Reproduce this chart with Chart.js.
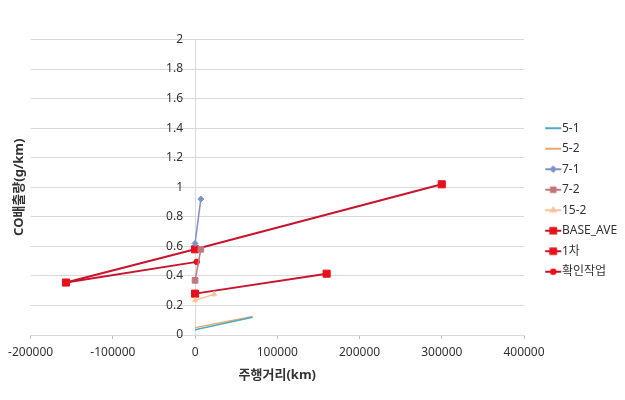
<!DOCTYPE html>
<html lang="ko">
<head>
    <meta charset="UTF-8">
    <title>CO배출량 - 주행거리</title>
    <style>
        body {
            margin: 0;
            padding: 0;
            background-color: #ffffff;
        }
        canvas {
            display: block;
        }
    </style>
</head>
<body>
    <canvas id="coChart" width="625" height="400"></canvas>

    <script src="https://cdn.jsdelivr.net/npm/chart.js"></script>
    <script>
        // series (x = 주행거리 km, y = CO g/km)
        const seriesNames = ['5-1', '5-2', '7-1', '7-2', '15-2', 'BASE_AVE', '1차', '확인작업'];
        const x51 = [0, 70000];
        const y51 = [0.035, 0.12];
        const x52 = [0, 70000];
        const y52 = [0.05, 0.125];
        const x71 = [0, 7000];
        const y71 = [0.62, 0.92];
        const x72 = [0, 7000];
        const y72 = [0.37, 0.58];
        const x152 = [0, 23000];
        const y152 = [0.235, 0.275];
        const xBase = [-157000, 0, 300000];
        const yBase = [0.355, 0.58, 1.02];
        const xFirst = [0, 160000];
        const yFirst = [0.28, 0.415];
        const xCheck = [-157000, 2000];
        const yCheck = [0.355, 0.495];

        // axis ticks
        const xTickMin = -200000, xTickMax = 400000, xTickStep = 100000;
        const yTickMin = 0, yTickMax = 2, yTickStep = 0.2;

        const FONT = "'Noto Sans', 'Noto Sans CJK KR', sans-serif";
        const GRID = '#d9d9d9';

        function pts(xs, ys) {
            return xs.map(function (x, i) { return { x: x, y: ys[i] }; });
        }

        // look of each series: line colour, marker colour, line width, marker
        const looks = [
            { color: '#4BACC6', fill: '#4BACC6', width: 1.5, style: false, r: 0 },
            { color: '#EDA66C', fill: '#EDA66C', width: 1.5, style: false, r: 0 },
            { color: '#7B93C9', fill: '#7B93C9', width: 1.5, style: 'rectRot', r: 3 },
            { color: '#C0787E', fill: '#C0787E', width: 1.5, style: 'rect', r: 4 },
            { color: '#F9C29A', fill: '#F9C29A', width: 1.5, style: 'triangle', r: 3 },
            { color: '#C8142C', fill: '#E8101A', width: 2, style: 'rect', r: 5 },
            { color: '#C8142C', fill: '#E8101A', width: 2, style: 'rect', r: 5 },
            { color: '#C8142C', fill: '#E8101A', width: 2, style: 'circle', r: 2.8 }
        ];
        const xs = [x51, x52, x71, x72, x152, xBase, xFirst, xCheck];
        const ys = [y51, y52, y71, y72, y152, yBase, yFirst, yCheck];

        // legend icon: short line with marker, drawn to the right of centre
        function legendIcon(look) {
            const c = document.createElement('canvas');
            c.width = 40;
            c.height = 12;
            const g = c.getContext('2d');
            g.strokeStyle = look.color;
            g.lineWidth = 2;
            g.beginPath();
            g.moveTo(21, 6);
            g.lineTo(37, 6);
            g.stroke();
            if (look.style) {
                g.fillStyle = look.fill;
                g.strokeStyle = look.fill;
                Chart.helpers.drawPoint(g, { pointStyle: look.style, radius: look.r * 0.8, borderWidth: 1 }, 29, 6);
            }
            return c;
        }
        const icons = looks.map(legendIcon);

        const datasets = seriesNames.map(function (name, i) {
            const lk = looks[i];
            return {
                label: name,
                data: pts(xs[i], ys[i]),
                showLine: true,
                borderColor: lk.color,
                backgroundColor: lk.fill,
                borderWidth: lk.width,
                pointStyle: lk.style,
                pointRadius: lk.style ? lk.r : 0,
                pointBorderColor: lk.fill,
                pointBorderWidth: 1,
                pointHoverRadius: lk.style ? lk.r : 0
            };
        });

        new Chart(document.getElementById('coChart'), {
            type: 'scatter',
            data: { datasets: datasets },
            options: {
                responsive: false,
                animation: false,
                devicePixelRatio: 1,
                layout: { padding: 0 },
                plugins: {
                    tooltip: { enabled: false },
                    legend: {
                        position: 'right',
                        maxWidth: 101,
                        labels: {
                            usePointStyle: true,
                            pointStyleWidth: 23.5,
                            padding: 8.5,
                            color: '#333333',
                            font: { family: FONT, size: 12 },
                            generateLabels: function (chart) {
                                const items = Chart.defaults.plugins.legend.labels.generateLabels(chart);
                                items.forEach(function (it) { it.pointStyle = icons[it.datasetIndex]; });
                                return items;
                            }
                        }
                    }
                },
                scales: {
                    x: {
                        type: 'linear',
                        position: 'bottom',
                        min: xTickMin,
                        max: xTickMax,
                        afterFit: function (s) { s.height = 65; },
                        ticks: {
                            stepSize: xTickStep,
                            color: '#333333',
                            padding: 6,
                            maxRotation: 0,
                            font: { family: FONT, size: 12 },
                            callback: function (v) { return String(v); }
                        },
                        grid: { drawOnChartArea: false, tickLength: 4, color: '#bfbfbf' },
                        border: { color: GRID },
                        title: {
                            display: true,
                            text: '주행거리(km)',
                            color: '#333333',
                            padding: { top: 0, bottom: 17 },
                            font: { family: FONT, size: 13, weight: 'bold' }
                        }
                    },
                    y: {
                        type: 'linear',
                        position: { x: 0 },
                        min: yTickMin,
                        max: yTickMax,
                        ticks: {
                            stepSize: yTickStep,
                            color: '#333333',
                            font: { family: FONT, size: 12 },
                            // labels sit against the axis at x=0, keep a gap like the original
                            callback: function (v) { return String(+v.toFixed(1)) + '\u2002\u2002'; }
                        },
                        grid: { color: GRID, drawTicks: false },
                        border: { color: GRID }
                    },
                    // spacer on top and axis title on the left
                    xTop: {
                        type: 'linear',
                        position: 'top',
                        afterFit: function (s) { s.height = 39.5; },
                        ticks: { display: false },
                        grid: { display: false },
                        border: { display: false }
                    },
                    yTitle: {
                        type: 'linear',
                        position: 'left',
                        afterFit: function (s) { s.width = 30.6; },
                        ticks: { display: false },
                        grid: { display: false },
                        border: { display: false },
                        title: {
                            display: true,
                            text: 'CO배출량(g/km)',
                            color: '#333333',
                            padding: { top: 11, bottom: 0 },
                            font: { family: FONT, size: 13, weight: 'bold' }
                        }
                    }
                }
            }
        });
    </script>
</body>
</html>
